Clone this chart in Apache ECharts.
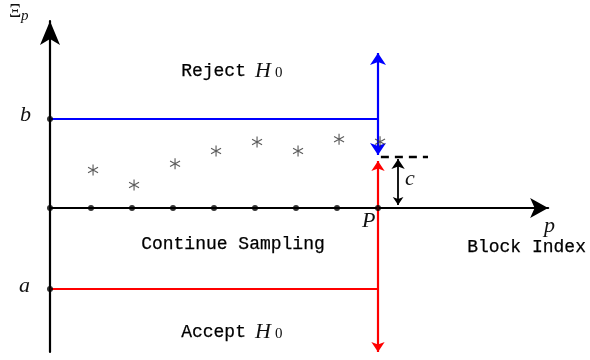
<!DOCTYPE html>
<html>
<head>
<meta charset="utf-8">
<script src="https://cdn.jsdelivr.net/npm/echarts@6/dist/echarts.min.js"></script>
<style>html,body{margin:0;padding:0;background:#fff;}#c{width:590px;height:360px;}</style>
</head>
<body>
<div id="c"></div>
<script>
// ---- data ----
const axisDots = [0, 1, 2, 3, 4, 5, 6, 7, 8];
const xiBlocks = [1, 2, 3, 4, 5, 6, 7, 8];
const xiValues = [3.8, 2.3, 4.43, 5.7, 6.6, 5.7, 6.87, 6.63];
const upperB = 8.9;
const lowerA = -8.1;
const stopP = 8;
const blueTips = [15.5, 5.3];
const redTips = [4.7, -14.4];
const cLevel = 5.1;
const cDashX = [8.07, 9.22];
const cArrowX = 8.49;
const cTips = [4.9, 0.3];

const chart = echarts.init(document.getElementById('c'), null, {renderer: 'canvas'});

function seg(p0, p1) { return {coords: [p0, p1]}; }
function mono(left, top, text) {
  return {type: 'text', left: left, top: top,
    style: {text: text, fontSize: 18, fontFamily: 'Liberation Mono', fill: '#000', stroke: '#000', lineWidth: 0.25}};
}
function txt(left, top, text, size, family, italic) {
  return {type: 'text', left: left, top: top,
    style: {text: text, fontSize: size, fontFamily: family, fontStyle: italic ? 'italic' : 'normal', fill: '#111'}};
}

const option = {
  animation: false,
  grid: {left: 50, top: 21, width: 12.15 * 41, height: 331},
  xAxis: {
    type: 'value', min: 0, max: 12.15,
    axisLine: {show: true, onZero: true, symbol: ['none', 'arrow'], symbolSize: [15, 18],
      lineStyle: {color: '#000', width: 2.2}},
    axisTick: {show: false}, axisLabel: {show: false}, splitLine: {show: false}
  },
  yAxis: {
    type: 'value', min: -14.4, max: 18.7,
    axisLine: {show: true, symbol: ['none', 'arrow'], symbolSize: [15, 24],
      lineStyle: {color: '#000', width: 2.2}},
    axisTick: {show: false}, axisLabel: {show: false}, splitLine: {show: false}
  },
  series: [
    {
      type: 'lines', coordinateSystem: 'cartesian2d', z: 3,
      lineStyle: {color: '#0000ff', width: 2.2, opacity: 1},
      symbol: 'none',
      data: [seg([0, upperB], [stopP, upperB])]
    },
    {
      type: 'lines', coordinateSystem: 'cartesian2d', z: 3,
      lineStyle: {color: '#0000ff', width: 2.2, opacity: 1},
      symbol: ['none', 'arrow'], symbolSize: [12, 12],
      data: blueTips.map(t => seg([stopP, upperB], [stopP, t]))
    },
    {
      type: 'lines', coordinateSystem: 'cartesian2d', z: 3,
      lineStyle: {color: '#ff0000', width: 2.2, opacity: 1},
      symbol: 'none',
      data: [seg([0, lowerA], [stopP, lowerA])]
    },
    {
      type: 'lines', coordinateSystem: 'cartesian2d', z: 3,
      lineStyle: {color: '#ff0000', width: 2.2, opacity: 1},
      symbol: ['none', 'arrow'], symbolSize: [8, 10],
      data: redTips.map(t => seg([stopP, lowerA], [stopP, t]))
    },
    {
      type: 'lines', coordinateSystem: 'cartesian2d', z: 3,
      lineStyle: {color: '#000', width: 2.4, type: [8, 6], opacity: 1},
      symbol: 'none',
      data: [seg([cDashX[0], cLevel], [cDashX[1], cLevel])]
    },
    {
      type: 'lines', coordinateSystem: 'cartesian2d', z: 3,
      lineStyle: {color: '#000', width: 1.8, opacity: 1},
      symbol: ['arrow', 'arrow'], symbolSize: [8, 10],
      data: [seg([cArrowX, cTips[1]], [cArrowX, cTips[0]])]
    },
    {
      type: 'scatter', z: 4, symbol: 'circle', symbolSize: 6,
      itemStyle: {color: '#000'},
      data: axisDots.map(x => [x, 0]).concat([[0, upperB], [0, lowerA]])
    },
    {
      type: 'scatter', z: 4,
      symbol: 'path://M0,-6L0,6M-5.2,-3L5.2,3M-5.2,3L5.2,-3',
      symbolSize: [10, 11],
      itemStyle: {color: 'transparent', borderColor: '#333', borderWidth: 1.2},
      data: xiBlocks.map((x, i) => [x + 0.05, xiValues[i]])
    }
  ],
  graphic: [
    txt(9, 3, 'Ξ', 19, 'Liberation Serif', false),
    txt(21, 9, 'p', 15, 'Liberation Serif', true),
    txt(20, 104, 'b', 22, 'Liberation Serif', true),
    txt(19, 275, 'a', 22, 'Liberation Serif', true),
    txt(362, 210, 'P', 22, 'Liberation Serif', true),
    txt(544, 215, 'p', 22, 'Liberation Serif', true),
    txt(405, 168, 'c', 22, 'Liberation Serif', true),
    mono(467, 238, 'Block Index'),
    mono(181, 62, 'Reject'),
    txt(255, 60, 'H', 22, 'Liberation Serif', true),
    txt(275, 66, '0', 15, 'Liberation Serif', false),
    mono(141, 235, 'Continue Sampling'),
    mono(181, 323, 'Accept'),
    txt(255, 321, 'H', 22, 'Liberation Serif', true),
    txt(275, 327, '0', 15, 'Liberation Serif', false)
  ]
};
chart.setOption(option);
</script>
</body>
</html>
